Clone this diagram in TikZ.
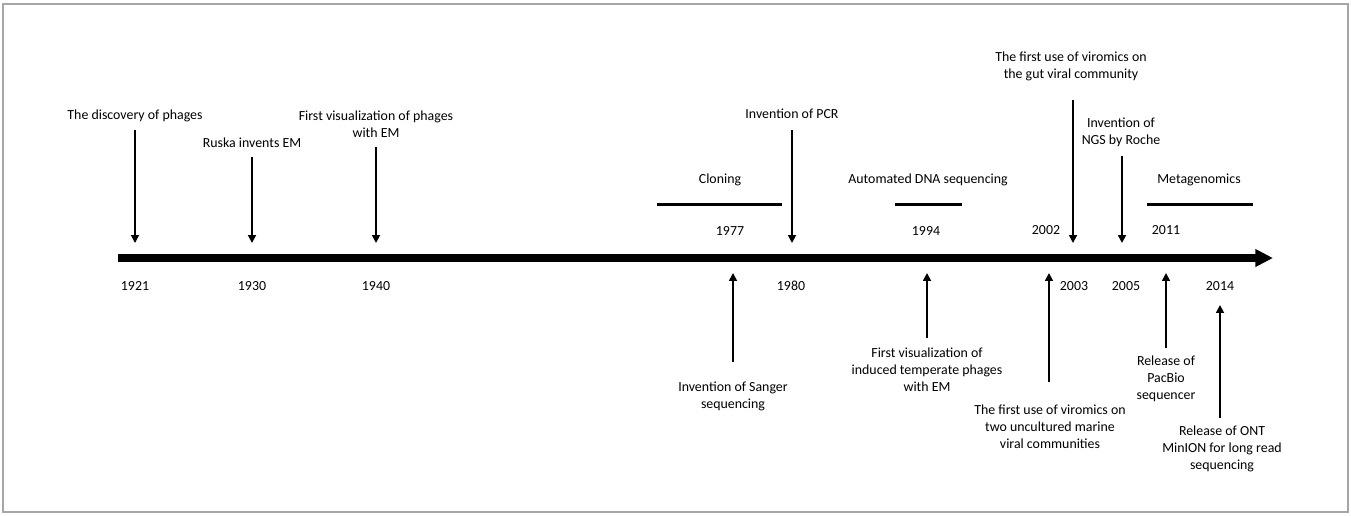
\documentclass[tikz,border=0pt]{standalone}
\usepackage{fontspec}
\setmainfont{Carlito}
\usetikzlibrary{arrows.meta}

\begin{document}
\begin{tikzpicture}[x=0.02cm, y=-0.02cm,
  lbl/.style={align=center, inner sep=0pt, font=\fontsize{7.9}{9.6}\selectfont},
  yr/.style={inner sep=0pt, font=\fontsize{7.9}{9.6}\selectfont},
  evt/.style={line width=1pt, -{Triangle[width=4.5pt,length=4.5pt]}},
  era/.style={line width=1.7pt}]
  \useasboundingbox (0,0) rectangle (1351,515);
  % Frame
  \draw[black!35, line width=0.8pt] (3,4) rectangle (1348,512);

  % Time axis
  \coordinate (axL) at (118,258);
  \coordinate (axR) at (1273,258);
  \draw[line width=4pt, -{Triangle[width=9.5pt,length=10pt]}] (axL) -- (axR);

  % Events above the axis
  \node[lbl] (phages) at (135,116) {The discovery of phages};
  \coordinate (phagesA) at (135,130);
  \coordinate (phagesB) at (135,243);
  \draw[evt] (phagesA) -- (phagesB);

  \node[lbl] (ruska) at (252,143) {Ruska invents EM};
  \coordinate (ruskaA) at (252,157);
  \coordinate (ruskaB) at (252,243);
  \draw[evt] (ruskaA) -- (ruskaB);

  \node[lbl] (visEM) at (376,124.5) {First visualization of phages\\with EM};
  \coordinate (visEMA) at (376,147);
  \coordinate (visEMB) at (376,243);
  \draw[evt] (visEMA) -- (visEMB);

  \node[lbl] (pcr) at (792,114) {Invention of PCR};
  \coordinate (pcrA) at (792,130);
  \coordinate (pcrB) at (792,243);
  \draw[evt] (pcrA) -- (pcrB);

  \node[lbl] (gut) at (1071,66.5) {The first use of viromics on\\the gut viral community};
  \coordinate (gutA) at (1073,100);
  \coordinate (gutB) at (1073,243);
  \draw[evt] (gutA) -- (gutB);

  \node[lbl] (ngs) at (1121,132.5) {Invention of\\NGS by Roche};
  \coordinate (ngsA) at (1122,156);
  \coordinate (ngsB) at (1122,243);
  \draw[evt] (ngsA) -- (ngsB);

  % Events below the axis
  \node[lbl] (sanger) at (733,396) {Invention of Sanger\\sequencing};
  \coordinate (sangerA) at (733,362);
  \coordinate (sangerB) at (733,273);
  \draw[evt] (sangerA) -- (sangerB);

  \node[lbl] (temp) at (927,370) {First visualization of\\induced temperate phages\\with EM};
  \coordinate (tempA) at (927,338);
  \coordinate (tempB) at (927,273);
  \draw[evt] (tempA) -- (tempB);

  \node[lbl] (marine) at (1050,427) {The first use of viromics on\\two uncultured marine\\viral communities};
  \coordinate (marineA) at (1049,382);
  \coordinate (marineB) at (1049,273);
  \draw[evt] (marineA) -- (marineB);

  \node[lbl] (pacbio) at (1166,379) {Release of\\PacBio\\sequencer};
  \coordinate (pacbioA) at (1166,348);
  \coordinate (pacbioB) at (1166,273);
  \draw[evt] (pacbioA) -- (pacbioB);

  \node[lbl] (ont) at (1222,449) {Release of ONT\\MinION for long read\\sequencing};
  \coordinate (ontA) at (1220,418);
  \coordinate (ontB) at (1220,305);
  \draw[evt] (ontA) -- (ontB);

  % Periods
  \node[lbl] (cloning) at (720,180) {Cloning};
  \coordinate (cloningL) at (657,204);
  \coordinate (cloningR) at (782,204);
  \draw[era] (cloningL) -- (cloningR);

  \node[lbl] (autoseq) at (928,180) {Automated DNA sequencing};
  \coordinate (autoseqL) at (895,204);
  \coordinate (autoseqR) at (962,204);
  \draw[era] (autoseqL) -- (autoseqR);

  \node[lbl] (metagen) at (1199,180) {Metagenomics};
  \coordinate (metagenL) at (1147,204);
  \coordinate (metagenR) at (1253,204);
  \draw[era] (metagenL) -- (metagenR);

  % Years
  \node[yr] (y1977) at (730,231) {1977};
  \node[yr] (y1994) at (926,231) {1994};
  \node[yr] (y2002) at (1046,230) {2002};
  \node[yr] (y2011) at (1166,230) {2011};
  \node[yr] (y1921) at (135,286) {1921};
  \node[yr] (y1930) at (252,286) {1930};
  \node[yr] (y1940) at (376,286) {1940};
  \node[yr] (y1980) at (791,286) {1980};
  \node[yr] (y2003) at (1074,286) {2003};
  \node[yr] (y2005) at (1126,286) {2005};
  \node[yr] (y2014) at (1220,286) {2014};
\end{tikzpicture}
\end{document}
